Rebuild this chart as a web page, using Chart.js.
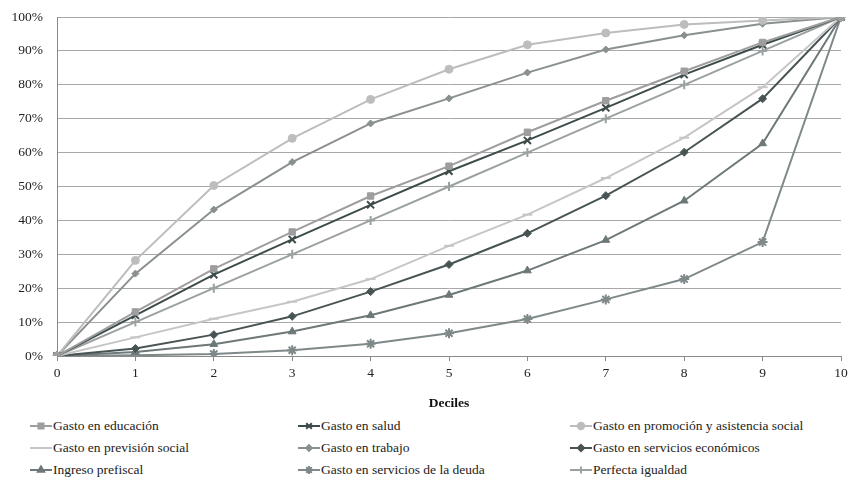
<!DOCTYPE html>
<html>
<head>
<meta charset="utf-8">
<script src="https://cdn.jsdelivr.net/npm/chart.js@4/dist/chart.umd.min.js"></script>
<style>
  body { margin: 0; background: #fff; font-family: "Liberation Serif", "DejaVu Serif", serif; }
  #wrap { position: relative; width: 849px; height: 483px; }
  #myChart { position: absolute; left: 0; top: 0; }
  .leg { position: absolute; display: flex; align-items: center; font-size: 13.5px; color: #222; white-space: nowrap; }
  .leg canvas { margin-right: 1px; }
</style>
</head>
<body>
<div id="wrap">
  <canvas id="myChart" width="849" height="416"></canvas>
  <div id="legend"></div>
</div>
<script>
var deciles = ["0","1","2","3","4","5","6","7","8","9","10"];

var educacion   = [0, 13.0, 25.7, 36.6, 47.2, 56.0, 66.0, 75.3, 84.0, 92.5, 100];
var salud       = [0, 12.0, 24.0, 34.4, 44.6, 54.5, 63.6, 73.2, 83.0, 91.8, 100];
var promocion   = [0, 28.2, 50.3, 64.2, 75.7, 84.6, 91.8, 95.3, 97.8, 99.0, 100];
var prevision   = [0, 5.5, 11.0, 16.0, 22.7, 32.5, 41.7, 52.5, 64.4, 79.3, 100];
var trabajo     = [0, 24.3, 43.2, 57.2, 68.6, 76.0, 83.6, 90.4, 94.6, 98.0, 100];
var economicos  = [0, 2.2, 6.3, 11.7, 19.0, 27.0, 36.2, 47.3, 60.1, 75.9, 100];
var prefiscal   = [0, 1.2, 3.5, 7.2, 12.0, 18.0, 25.2, 34.2, 45.8, 62.7, 100];
var deuda       = [0, 0.2, 0.6, 1.7, 3.6, 6.7, 10.9, 16.7, 22.7, 33.6, 100];
var igualdad    = [0, 10, 20, 30, 40, 50, 60, 70, 80, 90, 100];

var series = [
  {label: "Gasto en educación", data: educacion, color: "#9e9e9e", style: "rect", r: 4.5, col: 0, row: 0},
  {label: "Gasto en salud", data: salud, color: "#3e4b4b", style: "crossRot", r: 5, col: 1, row: 0},
  {label: "Gasto en promoción y asistencia social", data: promocion, color: "#bdbdbd", style: "circle", r: 4, col: 2, row: 0},
  {label: "Gasto en previsión social", data: prevision, color: "#c6c6c6", style: "line", r: 5, col: 0, row: 1},
  {label: "Gasto en trabajo", data: trabajo, color: "#8a9090", style: "rectRot", r: 3.5, col: 1, row: 1},
  {label: "Gasto en servicios económicos", data: economicos, color: "#485454", style: "rectRot", r: 4, col: 2, row: 1},
  {label: "Ingreso prefiscal", data: prefiscal, color: "#6e7878", style: "triangle", r: 4.5, col: 0, row: 2},
  {label: "Gasto en servicios de la deuda", data: deuda, color: "#7f8989", style: "star", r: 5, col: 1, row: 2},
  {label: "Perfecta igualdad", data: igualdad, color: "#9ba1a1", style: "cross", r: 4.5, col: 2, row: 2}
];

var datasets = series.map(function(s){
  return {
    label: s.label,
    data: s.data,
    borderColor: s.color,
    backgroundColor: s.color,
    borderWidth: 2,
    pointStyle: s.style,
    pointRadius: s.r,
    pointBorderWidth: (s.style == "line" || s.style.indexOf("cross") == 0 || s.style == "star") ? 2 : 1,
    pointBorderColor: s.color,
    pointBackgroundColor: s.color,
    tension: 0
  };
});

var ctx = document.getElementById('myChart');
var myChart = new Chart(ctx, {
  type: 'line',
  data: { labels: deciles, datasets: datasets },
  options: {
    responsive: false,
    animation: false,
    layout: { padding: { top: 17, right: 8, left: 0, bottom: 0 } },
    plugins: { legend: { display: false }, tooltip: { enabled: false } },
    scales: {
      x: {
        offset: false,
        grid: { display: true, drawOnChartArea: false, color: "#8a8a8a", tickLength: 5 },
        border: { color: "#8a8a8a" },
        ticks: { color: "#222", font: { family: "Liberation Serif", size: 13.5 }, padding: 4, maxRotation: 0 },
        title: { display: true, text: "Deciles", color: "#111", font: { family: "Liberation Serif", size: 13.5, weight: "bold" }, padding: { top: 13 } },
        afterFit: function(scale){ scale.height = 60; scale.paddingRight = 0; scale.paddingLeft = 0; }
      },
      y: {
        min: 0, max: 100,
        ticks: { stepSize: 10, color: "#222", font: { family: "Liberation Serif", size: 13.5 }, padding: 14,
          callback: function(v){ return v + "%"; } },
        grid: { color: "#a8a8a8", drawTicks: false, lineWidth: 1 },
        border: { color: "#8a8a8a" },
        afterFit: function(scale){ scale.width = 57; scale.paddingTop = 0; scale.paddingBottom = 0; }
      }
    }
  }
});

// leyenda en 3 columnas
var colX = [30, 298, 570];
var rowY = [426, 448, 470];
var legend = document.getElementById('legend');
series.forEach(function(s){
  var div = document.createElement('div');
  div.className = 'leg';
  div.style.left = colX[s.col] + 'px';
  div.style.top = (rowY[s.row] - 9) + 'px';
  var c = document.createElement('canvas');
  c.width = 22; c.height = 18;
  var g = c.getContext('2d');
  g.strokeStyle = s.color; g.lineWidth = 2;
  g.beginPath(); g.moveTo(0, 9); g.lineTo(22, 9); g.stroke();
  g.fillStyle = s.color;
  Chart.helpers.drawPoint(g, { pointStyle: s.style, radius: s.r * 0.8, rotation: 0, borderWidth: (s.style == "line" || s.style.indexOf("cross") == 0 || s.style == "star") ? 2 : 1 }, 11, 9);
  div.appendChild(c);
  var span = document.createElement('span');
  span.textContent = s.label;
  div.appendChild(span);
  legend.appendChild(div);
});
</script>
</body>
</html>
